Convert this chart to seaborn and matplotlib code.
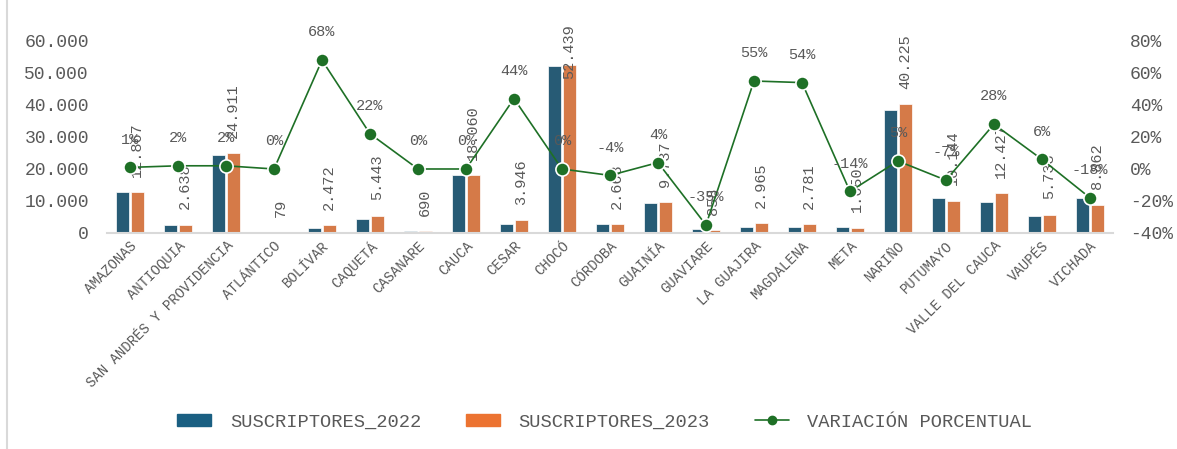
import numpy as np
import pandas as pd
import matplotlib.pyplot as plt
import seaborn as sns
from matplotlib.patches import Patch
from matplotlib.lines import Line2D

# Datos
departamentos = ['AMAZONAS', 'ANTIOQUIA', 'SAN ANDRÉS Y PROVIDENCIA', 'ATLÁNTICO', 'BOLÍVAR',
                 'CAQUETÁ', 'CASANARE', 'CAUCA', 'CESAR', 'CHOCÓ', 'CÓRDOBA', 'GUAINÍA',
                 'GUAVIARE', 'LA GUAJIRA', 'MAGDALENA', 'META', 'NARIÑO', 'PUTUMAYO',
                 'VALLE DEL CAUCA', 'VAUPÉS', 'VICHADA']
suscriptores_2022 = [12700, 2590, 24400, 79, 1470, 4460, 690, 18000, 2740, 52300, 2780, 9360,
                     1320, 1910, 1810, 1920, 38300, 10900, 9700, 5400, 10800]
suscriptores_2023 = [12867, 2638, 24911, 79, 2472, 5443, 690, 18060, 3946, 52439, 2668, 9737,
                     858, 2965, 2781, 1650, 40225, 10144, 12427, 5733, 8862]
variacion = [1, 2, 2, 0, 68, 22, 0, 0, 44, 0, -4, 4, -35, 55, 54, -14, 5, -7, 28, 6, -18]

azul = '#1a5f82'
naranja = '#ec7331'
verde = '#1e7026'
gris = '#595959'

df = pd.DataFrame({'DEPARTAMENTO': departamentos,
                   'SUSCRIPTORES_2022': suscriptores_2022,
                   'SUSCRIPTORES_2023': suscriptores_2023,
                   'VARIACION': variacion})
df_largo = df.melt(id_vars='DEPARTAMENTO', value_vars=['SUSCRIPTORES_2022', 'SUSCRIPTORES_2023'],
                   var_name='SERIE', value_name='SUSCRIPTORES')

sns.set_theme(style='white')
plt.rcParams['font.family'] = ['Liberation Mono', 'DejaVu Sans Mono']

fig = plt.figure(figsize=(11.77, 4.49), dpi=100)
ax = fig.add_axes([0.0909, 0.4811, 0.8547, 0.4276])

sns.barplot(data=df_largo, x='DEPARTAMENTO', y='SUSCRIPTORES', hue='SERIE', order=departamentos,
            palette=[azul, naranja], width=0.6, gap=0.1, edgecolor='white', linewidth=0.5,
            legend=False, ax=ax)

# etiquetas de 2023 (las muy altas se bajan para que no se salgan del gráfico)
for barra, v in zip(ax.containers[1], suscriptores_2023):
    desfase = 11 if v < 45000 else -10
    ax.annotate(f'{v:,}'.replace(',', '.'), (barra.get_x() + barra.get_width() / 2, barra.get_height()),
                xytext=(0, desfase), textcoords='offset points', rotation=90,
                ha='center', va='bottom', fontsize=11, color=gris)

ax.set_ylim(0, 60000)
ax.set_yticks(np.arange(0, 60001, 10000))
ax.set_yticklabels([f'{int(t):,}'.replace(',', '.') for t in np.arange(0, 60001, 10000)])
ax.set_xlabel('')
ax.set_ylabel('')

ax2 = ax.twinx()
sns.pointplot(data=df, x='DEPARTAMENTO', y='VARIACION', order=departamentos, color=verde,
              errorbar=None, markersize=9.5, linewidth=1.2, markeredgecolor='white',
              markeredgewidth=1.2, ax=ax2)
for i, v in enumerate(variacion):
    ax2.annotate(f'{v}%', (i, v), xytext=(0, 20), textcoords='offset points',
                 ha='center', va='center', fontsize=11, color=gris)

ax2.set_ylim(-40, 80)
ax2.set_yticks(np.arange(-40, 81, 20))
ax2.set_yticklabels([f'{t}%' for t in np.arange(-40, 81, 20)])
ax2.set_ylabel('')
ax2.set_xlabel('')
ax.set_xlim(-0.48, len(departamentos) - 0.52)

for s in ['top', 'right', 'left']:
    ax.spines[s].set_visible(False)
ax.spines['bottom'].set_color('#d9d9d9')
ax.spines['bottom'].set_linewidth(1.5)
for s in ax2.spines.values():
    s.set_visible(False)

ax.tick_params(axis='y', labelsize=13, labelcolor=gris, length=0, pad=13)
ax2.tick_params(axis='y', labelsize=13, labelcolor=gris, length=0, pad=12)
ax.tick_params(axis='x', length=0, pad=4)
plt.setp(ax.get_xticklabels(), rotation=45, ha='right', rotation_mode='anchor',
         fontsize=10, color=gris)

handles = [Patch(color=azul), Patch(color=naranja),
           Line2D([], [], color=verde, marker='o', markersize=6, linewidth=1.2)]
fig.legend(handles, ['SUSCRIPTORES_2022', 'SUSCRIPTORES_2023', 'VARIACIÓN PORCENTUAL'],
           loc='center', bbox_to_anchor=(0.514, 0.06), ncol=3, frameon=False, fontsize=13.5,
           labelcolor=gris, handlelength=1.8, handleheight=0.6, handletextpad=1.0,
           columnspacing=2.4)

fig.add_artist(Line2D([0.006, 0.006], [0, 1], color='#d9d9d9', linewidth=1.5))

fig.savefig('out.png', dpi=100)
